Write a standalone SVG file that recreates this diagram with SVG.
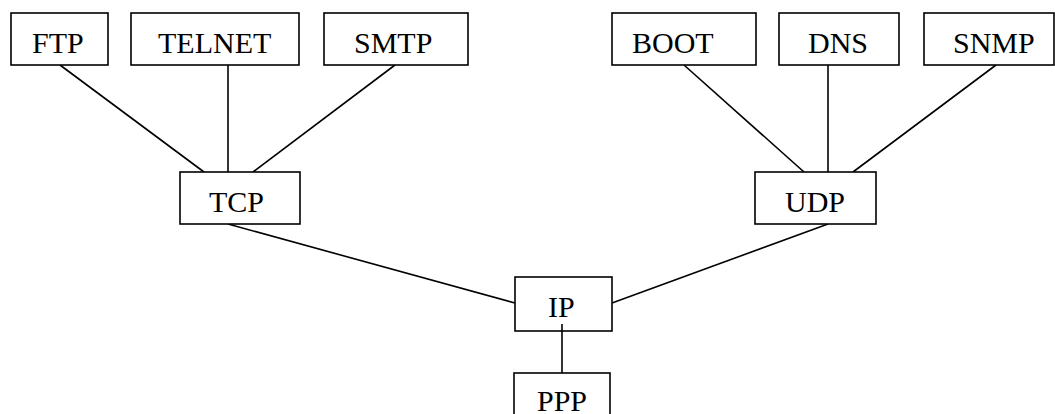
<svg xmlns="http://www.w3.org/2000/svg" width="1055" height="414" viewBox="0 0 1055 414">
  <style>
    .box { fill: #ffffff; stroke: #000000; stroke-width: 1.6; }
    .lbl { font-family: "Liberation Serif", "Times New Roman", serif; font-size: 30px; fill: #000000; }
    .link { stroke: #000000; stroke-width: 1.6; fill: none; }
  </style>
  <rect width="1055" height="414" fill="#ffffff"/>

  <!-- connectors -->
  <g id="connectors">
    <line class="link" x1="60" y1="65" x2="204" y2="172"/>
    <line class="link" x1="228" y1="65" x2="228" y2="172"/>
    <line class="link" x1="395" y1="65" x2="253" y2="172"/>
    <line class="link" x1="684" y1="65" x2="804" y2="172"/>
    <line class="link" x1="828" y1="65" x2="828" y2="172"/>
    <line class="link" x1="996" y1="65" x2="853" y2="172"/>
    <line class="link" x1="228" y1="224" x2="515" y2="303"/>
    <line class="link" x1="828" y1="224" x2="612" y2="303"/>
    <line class="link" x1="562" y1="324" x2="562" y2="373"/>
  </g>

  <!-- application layer -->
  <g id="ftp">
    <rect class="box" x="11" y="13" width="97" height="52"/>
    <text class="lbl" x="32" y="53">FTP</text>
  </g>
  <g id="telnet">
    <rect class="box" x="131" y="13" width="168" height="52"/>
    <text class="lbl" x="158" y="53">TELNET</text>
  </g>
  <g id="smtp">
    <rect class="box" x="324" y="13" width="144" height="52"/>
    <text class="lbl" x="354" y="53">SMTP</text>
  </g>
  <g id="boot">
    <rect class="box" x="612" y="13" width="144" height="52"/>
    <text class="lbl" x="632" y="53">BOOT</text>
  </g>
  <g id="dns">
    <rect class="box" x="779" y="13" width="120" height="52"/>
    <text class="lbl" x="808" y="53">DNS</text>
  </g>
  <g id="snmp">
    <rect class="box" x="924" y="13" width="130" height="52"/>
    <text class="lbl" x="953" y="53">SNMP</text>
  </g>

  <!-- transport layer -->
  <g id="tcp">
    <rect class="box" x="180" y="172" width="120" height="52"/>
    <text class="lbl" x="209" y="212">TCP</text>
  </g>
  <g id="udp">
    <rect class="box" x="755" y="172" width="121" height="52"/>
    <text class="lbl" x="785" y="212">UDP</text>
  </g>

  <!-- network layer -->
  <g id="ip">
    <rect class="box" x="515" y="277" width="97" height="54"/>
    <text class="lbl" x="548" y="317">IP</text>
    <line class="link" x1="562" y1="324" x2="562" y2="331"/>
  </g>

  <!-- link layer -->
  <g id="ppp">
    <rect class="box" x="514" y="373" width="96" height="54"/>
    <text class="lbl" x="537" y="411">PPP</text>
  </g>
</svg>
